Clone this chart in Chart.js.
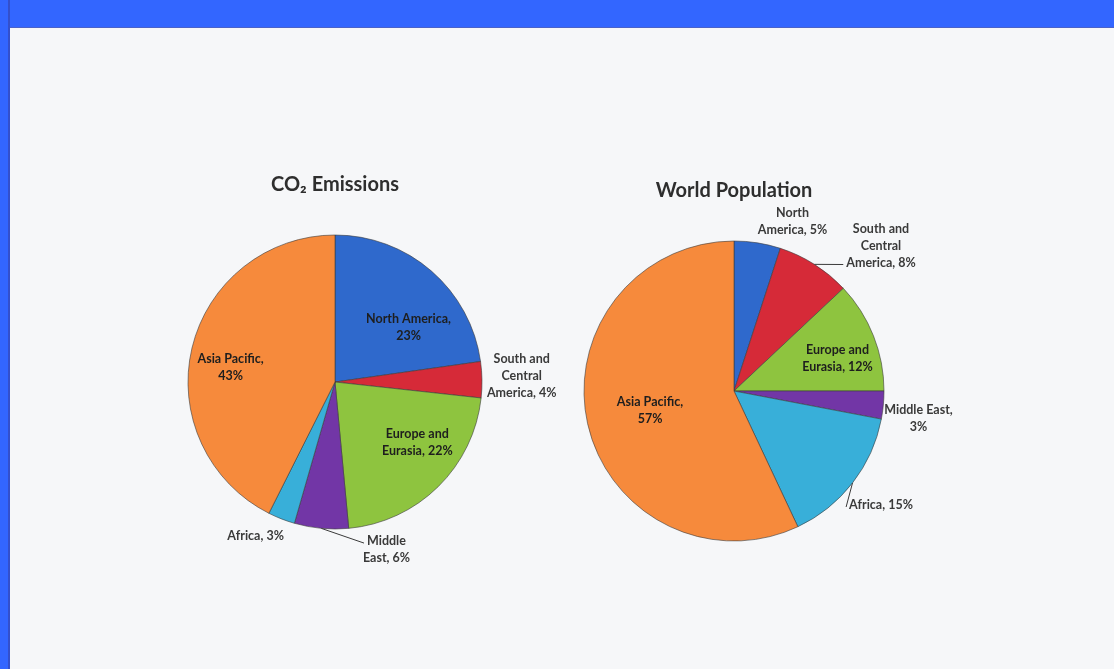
<!DOCTYPE html>
<html><head><meta charset="utf-8">
<script src="https://cdn.jsdelivr.net/npm/chart.js@4.4.0/dist/chart.umd.min.js"></script>
<style>
html,body{margin:0;padding:0;width:1114px;height:669px;overflow:hidden;background:#f6f7f9;}
#top{position:absolute;left:0;top:0;width:1114px;height:27px;background:#3366ff;border-bottom:1px solid #4b62c9;}
#left{position:absolute;left:0;top:0;width:8px;height:669px;background:#3366ff;border-right:2px solid #3450cc;}
.c{position:absolute;left:0;top:0;width:1114px;height:669px;}
</style></head><body>
<div id="top"></div><div id="left"></div>
<div class="c"><canvas id="co2"></canvas></div>
<div class="c"><canvas id="pop"></canvas></div>
<script>
// ---- data ----
const regions = ['North America','South and Central America','Europe and Eurasia','Middle East','Africa','Asia Pacific'];
const co2Values = [23, 4, 22, 6, 3, 43];
const popValues = [5, 8, 12, 3, 15, 57];
const co2Texts = [['North America,','23%'],['South and','Central','America, 4%'],['Europe and','Eurasia, 22%'],['Middle','East, 6%'],['Africa, 3%'],['Asia Pacific,','43%']];
const popTexts = [['North','America, 5%'],['South and','Central','America, 8%'],['Europe and','Eurasia, 12%'],['Middle East,','3%'],['Africa, 15%'],['Asia Pacific,','57%']];
const co2Title = 'CO\u2082 Emissions';
const popTitle = 'World Population';

// ---- styles / placement ----
const sliceColors = ['#2f69cc','#d62a38','#8ec43f','#7236a6','#38afd9','#f68a3c'];
// label anchors in units of radius relative to pie centre; leader: which line the leader goes to
const co2Place = [{ox:.50,oy:-.37,inside:1},{ox:1.27,oy:-.04},{ox:.56,oy:.41,inside:1},{ox:.35,oy:1.14,leader:0},{ox:-.54,oy:1.05},{ox:-.71,oy:-.10,inside:1}];
const popPlace = [{ox:.39,oy:-1.13},{ox:.98,oy:-.97,leader:2},{ox:.69,oy:-.22,inside:1},{ox:1.23,oy:.18},{ox:.98,oy:.76,leader:0},{ox:-.56,oy:.13,inside:1}];

const LABEL_FONT = 'bold 12.5px Lato, "Open Sans", sans-serif';
const TITLE_FONT = 'bold 20px Lato, "Open Sans", sans-serif';
const LINE_H = 17;

function makeLabelPlugin(title, texts, place){
  return {
    id:'sliceLabels',
    afterDatasetsDraw(chart){
      const ctx = chart.ctx;
      const meta = chart.getDatasetMeta(0);
      const a0 = meta.data[0];
      const cx = a0.x, cy = a0.y, r = a0.outerRadius;
      ctx.save();
      ctx.font = TITLE_FONT; ctx.fillStyle = '#2e2e2e'; ctx.textAlign = 'center'; ctx.textBaseline = 'middle';
      ctx.fillText(title, cx, cy - r - 50);
      ctx.font = LABEL_FONT;
      meta.data.forEach((arc, i) => {
        const p = place[i], lines = texts[i];
        const x = cx + p.ox * r, yc = cy + p.oy * r;
        const y0 = yc - (lines.length - 1) * LINE_H / 2;
        ctx.fillStyle = p.inside ? '#1e1e1e' : '#3a3a3a';
        lines.forEach((t, k) => { ctx.fillText(t, x, y0 + k * LINE_H); });
        if (p.leader !== undefined) {
          const mid = (arc.startAngle + arc.endAngle) / 2;
          const ex = cx + Math.cos(mid) * r, ey = cy + Math.sin(mid) * r;
          const lw = ctx.measureText(lines[p.leader]).width;
          const tx = x - lw / 2 - 3, ty = y0 + p.leader * LINE_H + 2;
          ctx.strokeStyle = '#3a3a3a'; ctx.lineWidth = 1;
          ctx.beginPath(); ctx.moveTo(ex, ey); ctx.lineTo(tx, ty); ctx.stroke();
        }
      });
      ctx.restore();
    }
  };
}

function makePie(id, values, title, texts, place, cx, cy, r){
  const W = 1114, H = 669, h = r + 0.5;
  return new Chart(document.getElementById(id), {
    type:'pie',
    data:{ labels: regions, datasets:[{ data: values, backgroundColor: sliceColors, borderColor:'rgba(60,60,60,0.6)', borderWidth:1 }] },
    options:{
      responsive:true, maintainAspectRatio:false, animation:false,
      layout:{ padding:{ left: cx - h, top: cy - h, right: W - cx - h, bottom: H - cy - h } },
      plugins:{ legend:{display:false}, tooltip:{enabled:false}, title:{display:false} }
    },
    plugins:[ makeLabelPlugin(title, texts, place) ]
  });
}

makePie('co2', co2Values, co2Title, co2Texts, co2Place, 335, 382, 147);
makePie('pop', popValues, popTitle, popTexts, popPlace, 734, 391, 150);
</script>
</body></html>
